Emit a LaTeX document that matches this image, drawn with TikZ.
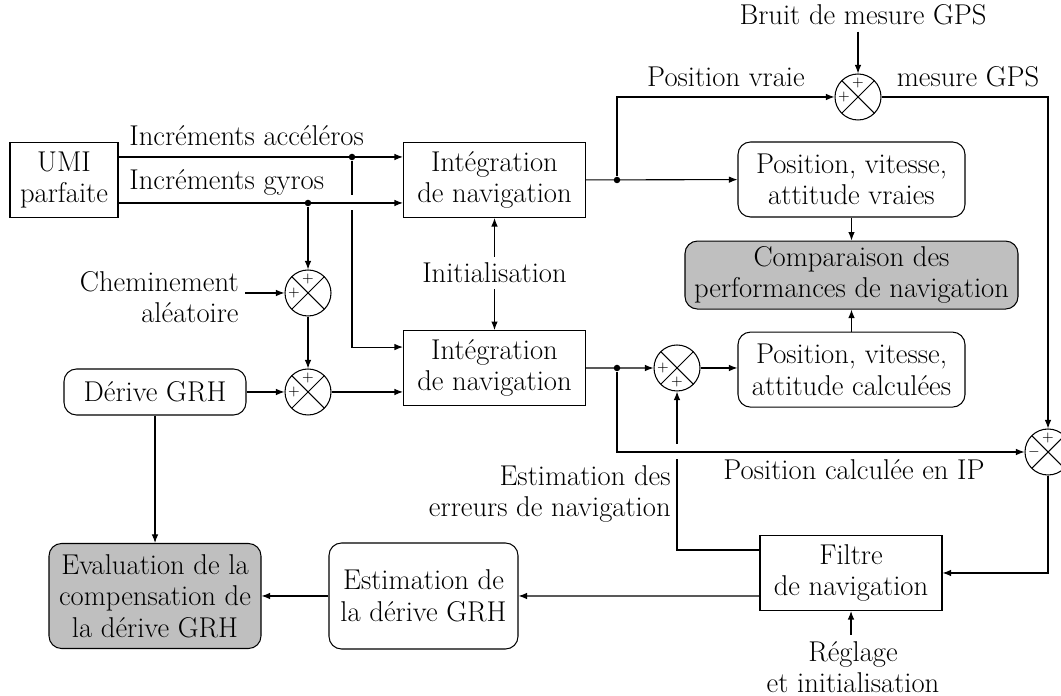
\documentclass[tikz,border=0pt]{standalone}
\usepackage{fontspec}
\usepackage{tikz}
\usetikzlibrary{arrows.meta, positioning, calc}
\newcommand{\blkfont}{\fontsize{16.3}{18}\selectfont}
\tikzset{
  blk/.style={draw, minimum height=1.5cm, align=center, font=\blkfont, inner sep=2pt},
  rblk/.style={blk, rounded corners=2.5mm},
  gblk/.style={rblk, fill=black!25},
  sum/.style={circle, draw, minimum size=9.2mm, inner sep=0pt,
    path picture={\draw (path picture bounding box.north west) -- (path picture bounding box.south east)
      (path picture bounding box.north east) -- (path picture bounding box.south west);}},
  sgn/.style={font=\footnotesize, inner sep=0pt},
  dot/.style={circle, fill, minimum size=1.3mm, inner sep=0pt},
  lbl/.style={font=\blkfont, align=center}
}
\begin{document}
\begin{tikzpicture}[>={Latex[length=1.7mm,width=1.3mm]}, line width=0.6pt]
\useasboundingbox (0,0) rectangle (21.22,13.92);
% blocks
\node[blk, minimum width=2.16cm] (umi) at (1.28,10.32) {UMI\\parfaite};
\node[blk, minimum width=3.64cm] (int1) at (9.89,10.32) {Intégration\\de navigation};
\node[blk, minimum width=3.64cm, below=2.24cm of int1] (int2) {Intégration\\de navigation};
\node[rblk, minimum width=4.54cm] (vraies) at (17.03,10.33) {Position, vitesse,\\attitude vraies};
\node[gblk, minimum width=6.66cm, minimum height=1.36cm, below=0.46cm of vraies] (comp) {Comparaison des\\performances de navigation};
\node[rblk, minimum width=4.54cm, below=0.44cm of comp] (calc) {Position, vitesse,\\attitude calculées};
\node[blk, minimum width=3.64cm] (filtre) at (17.02,2.46) {Filtre\\de navigation};
\node[rblk, minimum width=3.64cm, minimum height=0.92cm] (derive) at (3.1,6.08) {Dérive GRH};
\node[rblk, minimum width=3.78cm, minimum height=2.12cm] (estg) at (8.47,2.0) {Estimation de\\la dérive GRH};
\node[gblk, minimum width=4.24cm, minimum height=2.1cm] (eval) at (3.1,2.0) {Evaluation de la\\compensation de\\la dérive GRH};
% sommateurs
\node[sum] (sgps) at (17.16,11.98) {};
\node[sum] (s1) at (6.16,8.06) {};
\node[sum] (s2) at (6.16,6.08) {};
\node[sum] (sc) at (13.54,6.56) {};
\node[sum] (sd) at (20.96,4.88) {};
\foreach \s in {sgps,s1,s2,sd}
  \node[sgn] (\s-t) at ([yshift=-1.9mm]\s.north) {$+$};
\foreach \s in {sgps,s1,s2,sc}
  \node[sgn] (\s-l) at ([xshift=1.9mm]\s.west) {$+$};
\node[sgn] (sc-b) at ([yshift=1.9mm]sc.south) {$+$};
\node[sgn] (sd-l) at ([xshift=1.9mm]sd.west) {$-$};
% points
\node[dot] (dA) at (7.04,10.78) {};
\node[dot] (dG) at (6.16,9.86) {};
\node[dot] (dT) at (12.34,10.32) {};
\node[dot] (dC) at (12.34,6.56) {};
% labels
\node[lbl, anchor=base west] (lacc) at (2.46,11.0) {Incréments accéléros};
\node[lbl, anchor=base west] (lgyr) at (2.46,10.12) {Incréments gyros};
\node[lbl, anchor=east, align=right] (chem) at (4.9,7.98) {Cheminement\\aléatoire};
\node[lbl] (init) at (9.89,8.46) {Initialisation};
\node[lbl] (pvraie) at (14.52,12.38) {Position vraie};
\node[lbl] (mgps) at (19.36,12.38) {mesure GPS};
\node[lbl] (bruit) at (17.26,13.62) {Bruit de mesure GPS};
\node[lbl] (pcalc) at (17.08,4.52) {Position calculée en IP};
\node[lbl, anchor=east, align=right] (esterr) at (13.54,4.04) {Estimation des\\erreurs de navigation};
\node[lbl] (regl) at (17.06,0.58) {Réglage\\et initialisation};
% liaisons
\draw[->] ([yshift=4.6mm]umi.east) -- ([yshift=4.6mm]int1.west);
\draw[->] ([yshift=-4.6mm]umi.east) -- ([yshift=-4.6mm]int1.west);
\draw (dA) -- ($(dA |- dG)+(0,0.15)$);
\draw[->] ($(dA |- dG)-(0,0.15)$) |- ([yshift=4.2mm]int2.west);
\draw[->] (dG) -- (s1);
\draw[->] (chem.east |- s1) -- (s1);
\draw[->] (s1) -- (s2);
\draw[->] (derive) -- (s2);
\draw[->] (s2) -- (s2 -| int2.west);
\draw[->] (init) -- (int1);
\draw[->] (init) -- (int2);
\draw[->] (int1) -- (vraies);
\draw[->] (dT) |- (sgps);
\draw[->] (bruit.south -| sgps) -- (sgps);
\draw[->] (sgps) -| (sd);
\draw[->] (vraies) -- (comp);
\draw[->] (calc) -- (comp);
\draw[->] (int2) -- (sc);
\draw[->] (sc) -- (sc -| calc.west);
\draw[->] (dC) |- (sd);
\draw[->] (sd) |- (filtre);
\draw ([yshift=4.6mm]filtre.west) -| ($(sc |- sd)-(0,0.14)$);
\draw[->] ($(sc |- sd)+(0,0.16)$) -- (sc);
\draw[->] ([yshift=-4.6mm]filtre.west) -- (estg.east);
\draw[->] (estg) -- (eval);
\draw[->] (derive) -- (derive |- eval.north);
\draw[->] (regl.north -| filtre) -- (filtre);
\end{tikzpicture}
\end{document}
